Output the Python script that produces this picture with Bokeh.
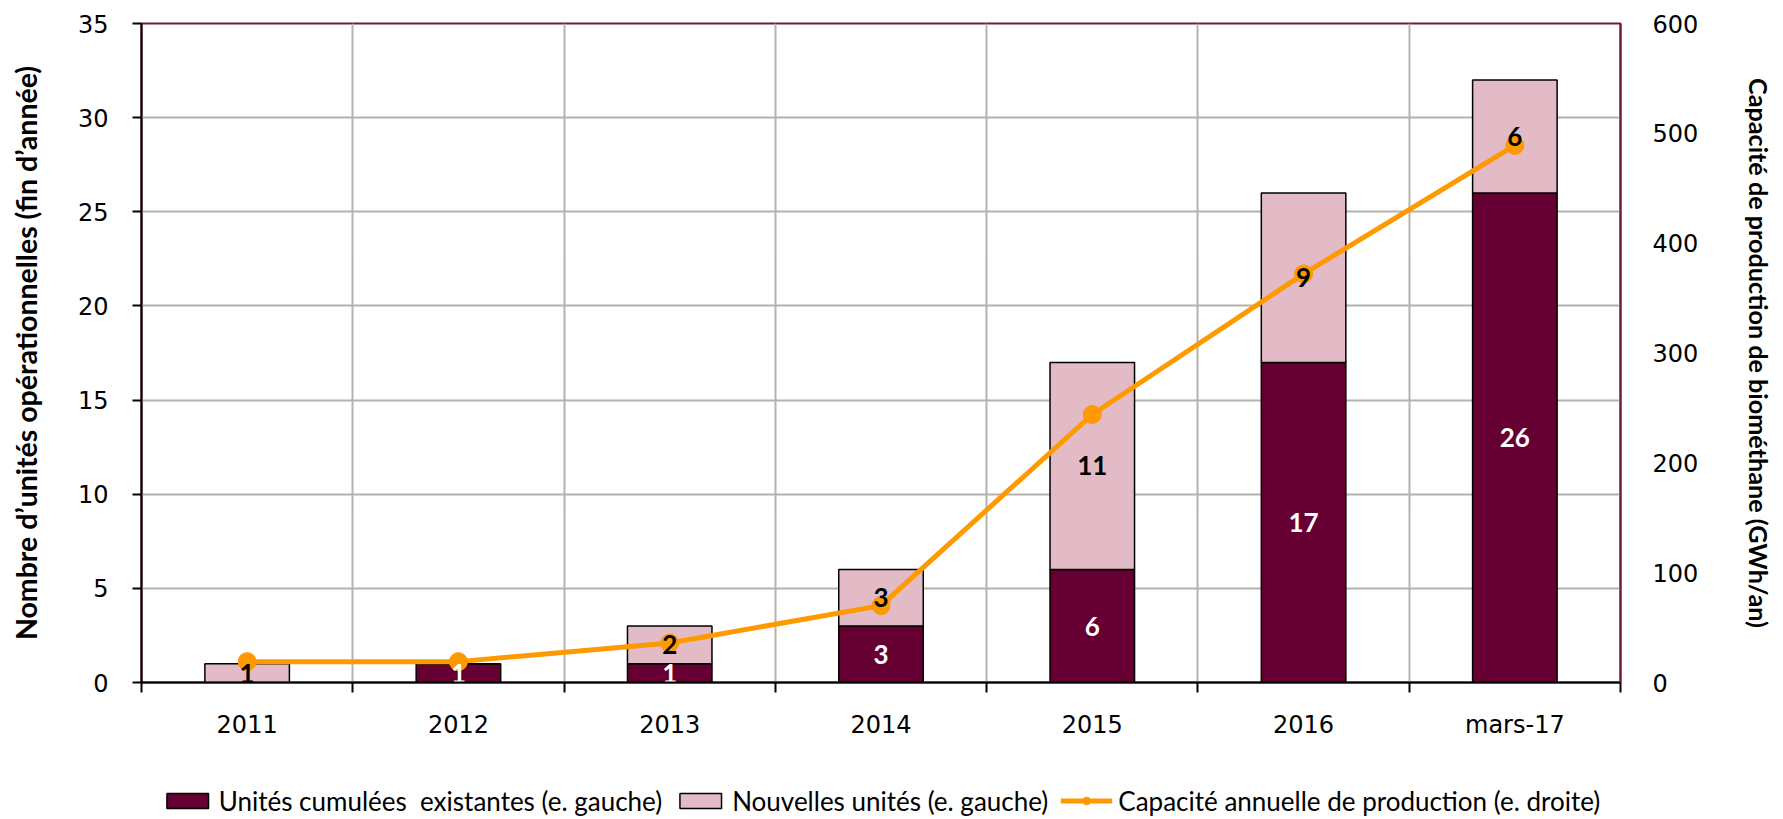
from bokeh.plotting import figure
from bokeh.layouts import column
from bokeh.models import (ColumnDataSource, Range1d, LinearAxis, FixedTicker,
                          Legend, LegendItem)
from bokeh.core.properties import value
from bokeh.embed import file_html
from bokeh.resources import INLINE

# ---- data ----
categories = ["2011", "2012", "2013", "2014", "2015", "2016", "mars-17"]
existing = [0, 1, 1, 3, 6, 17, 26]
new_units = [1, 0, 2, 3, 11, 9, 6]
capacity = [19, 19, 36, 70, 244, 372, 489]

left_ticks = [0, 5, 10, 15, 20, 25, 30, 35]
right_ticks = [0, 100, 200, 300, 400, 500, 600]

series_labels = ["Unités cumulées  existantes (e. gauche)",
                 "Nouvelles unités (e. gauche)",
                 "Capacité annuelle de production (e. droite)"]

C_EXIST = "#660033"
C_NEW = "#E2BBC6"
C_LINE = "#FF9900"
C_GRID = "#B5B2AC"
C_BORDER = "#6E1A43"

idx = list(range(len(categories)))
boundaries = [i - 0.5 for i in idx] + [idx[-1] + 0.5]

src = ColumnDataSource(dict(x=idx, existing=existing, new=new_units, cap=capacity))

p = figure(frame_width=1479, frame_height=659, output_backend="svg", toolbar_location=None,
           x_range=Range1d(-0.5, len(categories) - 0.5), y_range=Range1d(0, 35),
           min_border_left=141, min_border_right=160, min_border_top=23,
           min_border_bottom=100)
p.xaxis.visible = False
p.yaxis.visible = False
p.outline_line_color = C_BORDER
p.outline_line_width = 2
p.background_fill_color = "white"
p.border_fill_color = "white"

p.extra_y_ranges = {"right": Range1d(0, 600)}

TICK_FONT = "DejaVu Sans"
TITLE_FONT = "Lato"

# left axis
ly = LinearAxis(ticker=FixedTicker(ticks=left_ticks),
                axis_label="Nombre d\u2019unités opérationnelles (fin d\u2019année)")
ly.major_label_text_font = TICK_FONT
ly.major_label_text_font_size = "24px"
ly.major_label_text_color = "black"
ly.major_tick_out = 9
ly.major_tick_in = 0
ly.minor_tick_out = 0
ly.minor_tick_in = 0
ly.major_label_standoff = 24
ly.axis_line_color = "black"
ly.axis_line_width = 2
ly.major_tick_line_width = 2
ly.axis_label_text_font = TITLE_FONT
ly.axis_label_text_font_style = "bold"
ly.axis_label_text_font_size = "28.5px"
ly.axis_label_text_color = "black"
ly.axis_label_standoff = 32
p.add_layout(ly, "left")

# right axis
ry = LinearAxis(y_range_name="right", ticker=FixedTicker(ticks=right_ticks),
                axis_label="Capacité de production de biométhane (GWh/an)")
ry.major_label_text_font = TICK_FONT
ry.major_label_text_font_size = "24px"
ry.major_label_text_color = "black"
ry.major_tick_out = 0
ry.major_tick_in = 0
ry.minor_tick_out = 0
ry.minor_tick_in = 0
ry.major_label_standoff = 32
ry.axis_line_color = C_BORDER
ry.axis_line_width = 2
ry.axis_label_text_font = TITLE_FONT
ry.axis_label_text_font_style = "bold"
ry.axis_label_text_font_size = "25.2px"
ry.axis_label_text_color = "black"
ry.axis_label_standoff = 43
p.add_layout(ry, "right")

# bottom axis
bx = LinearAxis(ticker=FixedTicker(ticks=idx, minor_ticks=boundaries))
bx.major_label_overrides = {i: c for i, c in zip(idx, categories)}
bx.major_label_text_font = TICK_FONT
bx.major_label_text_font_size = "24px"
bx.major_label_text_color = "black"
bx.major_tick_out = 0
bx.major_tick_in = 0
bx.minor_tick_out = 10
bx.minor_tick_in = 0
bx.minor_tick_line_color = "black"
bx.minor_tick_line_width = 2
bx.major_label_standoff = 18
bx.axis_line_color = "black"
bx.axis_line_width = 2
p.add_layout(bx, "below")

# grids
p.xgrid.ticker = FixedTicker(ticks=boundaries[1:-1])
p.ygrid.ticker = FixedTicker(ticks=left_ticks[1:-1])
p.xgrid.grid_line_color = C_GRID
p.ygrid.grid_line_color = C_GRID
p.xgrid.grid_line_width = 2
p.ygrid.grid_line_width = 2

# bars
bars = p.vbar_stack(["existing", "new"], x="x", width=0.4, source=src,
                    fill_color=[C_EXIST, C_NEW], line_color="black", line_width=1.5)

# segment labels
lab_x, lab_y, lab_t, lab_c = [], [], [], []
for i, (e, n) in enumerate(zip(existing, new_units)):
    if e > 0:
        lab_x.append(i); lab_y.append(e / 2); lab_t.append(str(e)); lab_c.append("white")
    if n > 0:
        lab_x.append(i); lab_y.append(e + n / 2); lab_t.append(str(n)); lab_c.append("black")
lab_src = ColumnDataSource(dict(x=lab_x, y=lab_y, t=lab_t, c=lab_c))

# line
ln = p.line("x", "cap", source=src, y_range_name="right", line_color=C_LINE, line_width=5)
mk = p.scatter("x", "cap", source=src, y_range_name="right", size=18,
               fill_color=C_LINE, line_color=C_LINE)

p.text("x", "y", text="t", source=lab_src, text_color="c", text_font_size="26px",
       text_font_style="bold", text_font=value("Lato"), text_align="center",
       text_baseline="middle")

# ---- legend strip (separate figure under the chart) ----
p2 = figure(width=1780, height=37, output_backend="svg", toolbar_location=None,
            x_axis_type=None, y_axis_type=None, min_border=0,
            x_range=Range1d(0, 1), y_range=Range1d(0, 1))
p2.outline_line_color = None
p2.grid.visible = False
p2.background_fill_color = "white"
p2.border_fill_color = "white"
nan = float("nan")
legend_src = ColumnDataSource(dict(x=[nan], y=[nan]))
r1 = p2.vbar(x="x", top="y", width=0.4, source=legend_src, fill_color=C_EXIST,
             line_color="black", line_width=1.5)
r2 = p2.vbar(x="x", top="y", width=0.4, source=legend_src, fill_color=C_NEW,
             line_color="black", line_width=1.5)
r3 = p2.line(x="x", y="y", source=legend_src, line_color=C_LINE, line_width=5)
r4 = p2.scatter(x="x", y="y", source=legend_src, size=18, fill_color=C_LINE,
                line_color=C_LINE)

legend = Legend(items=[
    LegendItem(label=series_labels[0], renderers=[r1]),
    LegendItem(label=series_labels[1], renderers=[r2]),
    LegendItem(label=series_labels[2], renderers=[r3, r4]),
], orientation="horizontal", location="center")
legend.glyph_width = 52
legend.glyph_height = 19
legend.label_standoff = 6
legend.spacing = 12
legend.padding = 0
legend.margin = 0
legend.border_line_color = None
legend.background_fill_alpha = 0
legend.label_text_font = "Lato"
legend.label_text_font_size = "26px"
legend.label_text_color = "black"
p2.add_layout(legend)

layout = column(p, p2, spacing=0)
open("out.html", "w").write(file_html(layout, INLINE))
